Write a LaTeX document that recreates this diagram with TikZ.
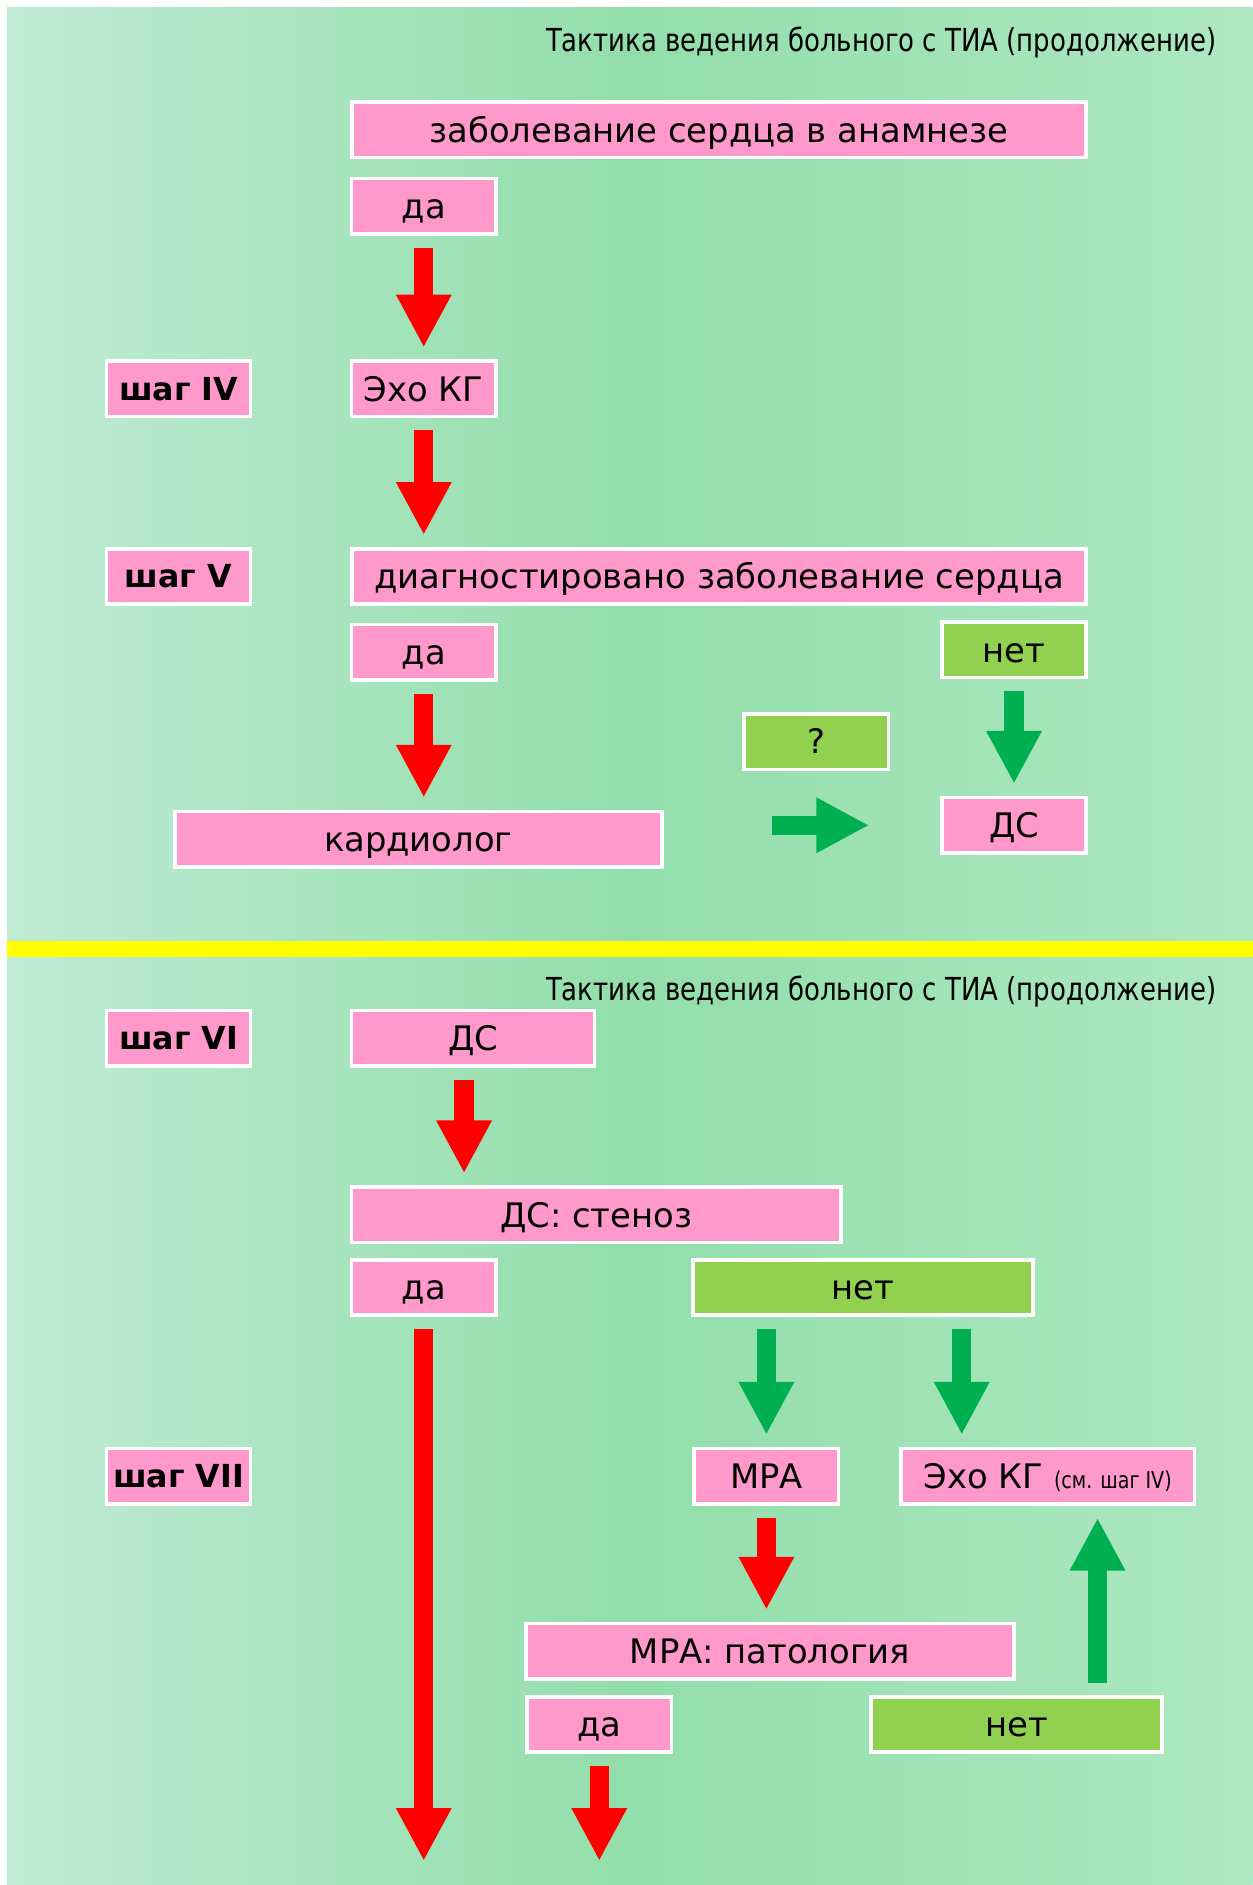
\documentclass[tikz,border=0pt]{standalone}
\usepackage{fontspec}
\setmainfont{DejaVu Sans}
\newfontfamily\titlefont[FakeStretch=0.82]{DejaVu Sans}
\usetikzlibrary{arrows.meta,positioning,calc}
\definecolor{pinkbox}{HTML}{FF99CC}
\definecolor{greenbox}{HTML}{92D050}
\definecolor{arrred}{HTML}{FF0000}
\definecolor{arrgreen}{HTML}{00B050}
\definecolor{bgdark}{HTML}{92DEAA}
\definecolor{bglight}{HTML}{C0EBD5}
\definecolor{bgright}{HTML}{AEE8C2}
\definecolor{bandyellow}{HTML}{FFFF00}

\begin{document}
\begin{tikzpicture}[x=0.02cm, y=-0.02cm,
  box/.style={rectangle, draw=white, line width=0.06cm, fill=pinkbox,
    minimum height=0.92cm, inner sep=0pt, text height=11.6pt, text depth=0pt,
    font=\fontsize{16}{19}\selectfont},
  nobox/.style={box, fill=greenbox},
  small/.style={minimum width=2.4cm},
  wide/.style={minimum width=12.22cm},
  stepbox/.style={box, small, text height=10.9pt, font=\fontsize{15}{18}\selectfont\bfseries},
  title/.style={anchor=east, inner sep=0pt, font=\titlefont\fontsize{15}{18}\selectfont},
  redarr/.style={draw=arrred, line width=0.32cm,
    -{Triangle[width=0.86cm,length=0.88cm]}, shorten <=0.2cm, shorten >=0.2cm},
  grarr/.style={redarr, draw=arrgreen},
  slide/.style={left color=bglight, right color=bgright, middle color=bgdark}
]
\useasboundingbox (0,0) rectangle (1042,1568);
\fill[white] (0,0) rectangle (1042,1568);
\shade[slide] (6,6) rectangle (1042,783);
\shade[slide] (6,796) rectangle (1042,1568);
\fill[bandyellow] (6,783) rectangle (1042,796);

\node[title] (t1) at (1012,35) {Тактика ведения больного с ТИА (продолжение)};
\node[box, wide] (anam) at (598,108) {заболевание сердца в анамнезе};
\node[box, small] (da1) at (352.5,171.5) {да};
\node[stepbox] (s4) at (148.5,323.5) {шаг IV};
\node[box, small] (echo1) at (352.5,323.5) {Эхо КГ};
\node[stepbox] (s5) at (148.5,479.5) {шаг V};
\node[box, wide] (diag) at (598,479.5) {диагностировано заболевание сердца};
\node[box, small] (da2) at (352.5,542.5) {да};
\node[nobox, small] (net1) at (843.5,540.5) {нет};
\node[nobox, small] (q) at (679,617) {?};
\node[box, minimum width=8.1cm] (kard) at (348,698) {кардиолог};
\node[box, small] (ds1) at (843.5,686.5) {ДС};

\draw[redarr] (da1) -- (echo1);
\draw[redarr] (echo1) -- (echo1 |- diag.north);
\draw[redarr] (da2) -- (da2 |- kard.north);
\draw[grarr] (net1) -- (ds1);
\draw[grarr, shorten <=1.81cm, shorten >=1.18cm] (kard.east |- ds1) -- (ds1.west);

\node[title] (t2) at (1012,825) {Тактика ведения больного с ТИА (продолжение)};
\node[stepbox] (s6) at (148.5,863.5) {шаг VI};
\node[box, minimum width=4.04cm] (ds2) at (393.5,863.5) {ДС};
\node[box, minimum width=8.14cm] (sten) at (496,1010.5) {ДС: стеноз};
\node[box, small] (da3) at (352.5,1071) {да};
\node[nobox, minimum width=5.66cm] (net2) at (718,1071) {нет};
\node[stepbox] (s7) at (148.5,1228) {шаг VII};
\node[box, small] (mra) at (637.5,1228) {МРА};
\node[box, minimum width=4.88cm] (echo2) at (871.5,1228)
  {Эхо КГ {\titlefont\fontsize{11}{13}\selectfont (см. шаг IV)}};
\node[box, minimum width=8.12cm] (mrap) at (640.5,1373.5) {МРА: патология};
\node[box, small] (da4) at (498.5,1434.5) {да};
\node[nobox, minimum width=4.84cm] (net3) at (845.5,1434.5) {нет};
\coordinate (end1) at (352.5,1548);
\coordinate (end2) at (498.5,1548);
\path ([xshift=-0.15cm]ds2.south) coordinate (dsout)
  ([xshift=-1.43cm]echo2.north) coordinate (ein)
  ([xshift=1.35cm]net3.north) coordinate (nup);

\draw[redarr] (dsout) -- (dsout |- sten.north);
\draw[redarr, shorten >=0pt] (da3) -- (end1);
\draw[grarr] (net2.south -| mra) -- (mra);
\draw[grarr] (ein |- net2.south) -- (ein);
\draw[redarr] (mra) -- (mra |- mrap.north);
\draw[grarr] (nup) -- (nup |- echo2.south);
\draw[redarr, shorten >=0pt] (da4) -- (end2);

\end{tikzpicture}
\end{document}
